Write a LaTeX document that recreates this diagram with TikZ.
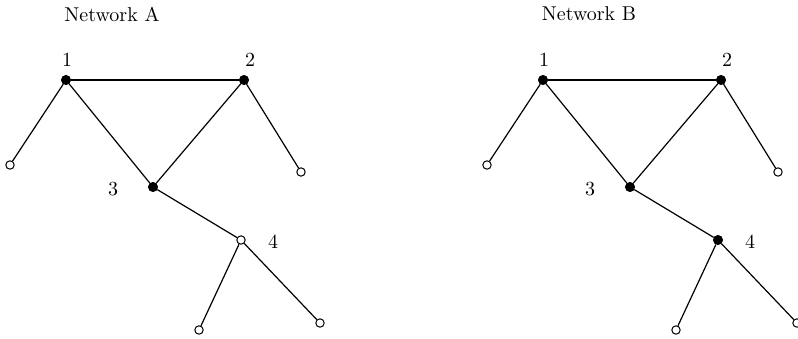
\documentclass[tikz,border=0pt]{standalone}
\usetikzlibrary{positioning,calc}
\tikzset{
  hub/.style={circle, draw=black, fill=black, inner sep=0pt, minimum size=4.6pt},
  leaf/.style={circle, draw=black, fill=white, line width=0.5pt, inner sep=0pt, minimum size=4.2pt},
  lnk/.style={draw=black, line width=0.6pt},
  num/.style={inner sep=1pt},
}

\begin{document}
\begin{tikzpicture}[x=0.5pt, y=-0.5pt]
\useasboundingbox (0,0) rectangle (798,338);

% the same network twice, only node 4 differs
\foreach \net/\dx/\four in {A/0/leaf, B/477/hub} {
\begin{scope}[shift={(\dx,0)}]
\node (\net-title) at (112,14) {Network \net};

\node[hub]  (\net1) at (66,80)   {};
\node[hub]  (\net2) at (244,80)  {};
\node[hub]  (\net3) at (153,187) {};
\node[\four] (\net4) at (241,240) {};
\node[leaf] (\net a) at (10,165)  {};
\node[leaf] (\net b) at (301,172) {};
\node[leaf] (\net c) at (199,330) {};
\node[leaf] (\net d) at (320,323) {};

\node[num] (\net1-lbl) at (67,60)   {1};
\node[num] (\net2-lbl) at (250,60)  {2};
\node[num] (\net3-lbl) at (113,189) {3};
\node[num] (\net4-lbl) at (273,242) {4};

\draw[lnk] (\net1) -- (\net2);
\draw[lnk] (\net1) -- (\net3);
\draw[lnk] (\net2) -- (\net3);
\draw[lnk] (\net1) -- (\net a);
\draw[lnk] (\net2) -- (\net b);
\draw[lnk] (\net3) -- (\net4);
\draw[lnk] (\net4) -- (\net c);
\draw[lnk] (\net4) -- (\net d);
\end{scope}
}
\end{tikzpicture}
\end{document}
